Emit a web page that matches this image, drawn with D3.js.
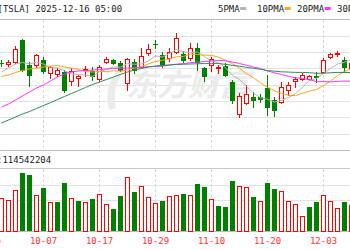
<!DOCTYPE html>
<html lang="zh">
<head>
<meta charset="UTF-8">
<title>TSLA 日K</title>
<script src="https://d3js.org/d3.v7.min.js"></script>
<style>
    html, body {margin: 0; padding: 0; background: #fff; overflow: hidden}
    svg {display: block}
    text {font-family: "DejaVu Sans Mono", monospace; font-size: 9px}
</style>
</head>
<body>
<svg id="kline" width="350" height="250"></svg>
<script>
// trading days (09-25 .. 12-09), first two sit left of the visible area
const dates = ["09-25","09-26","09-29","09-30","10-01","10-02","10-03","10-06","10-07","10-08","10-09","10-10",
    "10-13","10-14","10-15","10-16","10-17","10-20","10-21","10-22","10-23","10-24","10-27","10-28","10-29",
    "10-30","10-31","11-03","11-04","11-05","11-06","11-07","11-10","11-11","11-12","11-13","11-14","11-17",
    "11-18","11-19","11-20","11-21","11-24","11-25","11-26","11-28","12-01","12-02","12-03","12-04","12-05",
    "12-08","12-09"];
const opens = [437.9,440.4,447.1,444.9,447.7,474.7,444.1,444.1,449.6,434.3,433.0,435.5,423.9,427.8,437.9,436.1,
    426.9,447.7,449.6,447.1,422.6,448.1,442.2,458.4,470.0,456.3,453.2,460.0,457.5,452.3,464.3,440.0,444.1,440.0,
    443.4,423.6,384.1,397.9,405.2,405.2,415.5,401.2,399.1,413.4,424.8,426.9,426.5,431.2,435.9,454.2,457.5,450.2,440.0];
const closes = [435.5,442.8,446.1,447.7,463.6,437.9,431.8,456.3,436.1,441.0,437.9,413.4,437.3,430.6,439.2,430.0,
    442.2,451.4,446.1,437.9,451.4,437.9,454.5,463.4,469.4,444.1,460.3,477.1,450.2,464.5,448.1,430.6,451.0,442.0,
    431.8,401.2,406.1,408.5,401.2,403.0,392.3,389.0,417.5,419.6,426.5,431.8,430.6,429.4,450.2,457.2,458.5,442.0,446.1];
const highs = [442.8,446.5,450.2,449.6,467.3,475.3,448.3,457.5,453.9,442.8,439.8,437.9,439.8,431.8,443.4,441.6,
    444.1,453.9,450.8,448.9,452.6,452.0,464.5,469.8,474.7,460.0,464.5,483.2,460.6,470.6,470.4,442.2,453.5,444.1,
    445.9,425.7,409.2,419.6,411.4,408.6,431.8,405.2,423.6,423.6,429.7,433.9,432.4,435.5,452.3,458.4,461.2,453.5,448.9];
const lows = [430.6,437.9,443.4,443.4,446.5,436.7,418.3,441.6,434.3,428.1,430.6,411.6,419.6,418.3,430.6,425.7,
    424.5,445.9,445.3,436.7,413.4,434.3,441.6,456.3,464.9,441.6,448.9,458.7,447.7,450.2,437.9,423.9,436.1,434.6,
    430.0,397.5,380.4,396.9,392.3,399.1,382.8,381.6,397.5,407.3,417.5,425.7,425.7,423.2,433.9,452.3,455.1,435.9,437.9];
// volume, millions of shares
const volumes = [90.0,85.0,86.0,80.9,106.4,148.8,145.5,93.7,111.5,76.6,74.8,123.3,86.0,79.1,76.6,83.5,96.2,69.7,
    57.9,91.1,140.4,102.1,116.6,89.3,74.0,79.1,91.9,93.7,96.2,93.7,121.7,114.8,84.2,66.4,63.8,130.2,117.4,113.1,
    89.3,79.1,123.3,109.0,104.6,79.1,70.7,40.1,63.8,74.8,94.4,79.1,60.5,74.8,68.1];
// moving averages as drawn
const ma5 = [null,null,435.5,440.4,445.3,447.1,445.4,447.5,445.2,440.6,440.6,436.9,433.2,432.1,431.7,430.1,435.9,
    438.7,441.7,441.5,445.8,444.9,445.5,449.1,455.3,453.8,458.4,462.9,460.2,459.2,460.1,454.1,448.8,447.2,440.7,
    431.3,426.4,418.0,409.8,404.0,402.2,398.7,400.6,404.3,408.9,416.9,425.2,427.5,433.7,439.8,445.2,447.5,450.8];
const ma10 = [null,null,430.0,431.8,434.9,437.3,439.2,440.4,441.6,442.8,443.4,441.6,440.3,438.5,436.1,435.4,436.3,
    435.9,437.0,436.6,437.9,440.4,442.1,445.4,448.5,449.8,451.6,454.2,454.6,457.3,456.9,456.2,455.8,453.7,449.9,
    445.6,440.3,433.4,428.5,422.4,416.8,412.6,409.3,407.0,406.5,409.5,412.0,414.1,419.0,424.3,431.0,436.3,439.2];
const ma20 = [null,null,392.6,396.3,401.2,406.1,411.0,415.9,419.6,424.5,429.4,433.0,435.5,436.7,437.3,437.9,438.5,
    439.2,439.8,440.0,440.4,440.7,441.2,442.0,442.3,442.6,444.1,445.0,445.8,447.0,447.5,448.3,449.0,449.6,449.2,
    447.7,445.9,443.8,441.6,439.8,436.8,434.4,432.5,430.3,428.3,427.6,426.2,423.7,423.7,423.4,423.9,424.5,424.2];
const ma30 = [null,null,373.1,376.7,380.4,384.1,387.1,390.8,394.5,398.1,401.8,405.5,409.2,412.8,416.5,420.2,423.2,
    426.3,429.4,432.4,435.5,437.9,439.8,441.6,442.8,443.7,444.1,444.7,445.0,445.3,445.5,445.9,446.1,445.9,444.8,
    443.6,442.7,441.1,440.0,438.8,437.2,436.5,435.7,435.4,435.0,435.0,434.6,433.9,434.0,434.6,434.9,435.0,434.8];

const tickDates = ["09-25","10-07","10-17","10-29","11-10","11-20","12-03"];
const priceTicks = [360, 380, 400, 420, 440, 460, 480];
const volTicks = [40, 80, 120];
const maNames = ["5PMA", "10PMA", "20PMA", "30PMA"];
const maColors = ["#b4b4b4", "#f5a623", "#ff33ff", "#2e8b57"];
const title = "[TSLA] 2025-12-16 05:00";
const volLabel = ":114542204";

const RED = "#ff0000", GREEN = "#008000";
const W = 350, H = 250;
const svg = d3.select("#kline");

const x = d3.scalePoint().domain(dates).range([-12.5, -12.5 + 7 * (dates.length - 1)]);
const y = d3.scaleLinear().domain([340, 500]).range([150, 19.3]);
const yv = d3.scaleLinear().domain([0, 160]).range([231.5, 169]);
const px = v => Math.round(v) + 0.5;

// ---- grid ----
const grid = svg.append("g").attr("shape-rendering", "crispEdges");
grid.selectAll(".hp").data(priceTicks).join("line")
    .attr("x1", 0).attr("x2", W)
    .attr("y1", d => px(y(d))).attr("y2", d => px(y(d)))
    .attr("stroke", "#e2e2e2");
grid.selectAll(".hv").data(volTicks).join("line")
    .attr("x1", 0).attr("x2", W)
    .attr("y1", d => px(yv(d))).attr("y2", d => px(yv(d)))
    .attr("stroke", "#e2e2e2");
[[20, 150], [169, 231]].forEach(([a, b]) => {
    grid.append("g").selectAll("line").data(tickDates).join("line")
        .attr("x1", d => x(d)).attr("x2", d => x(d))
        .attr("y1", a).attr("y2", b)
        .attr("stroke", "#d6d6d6").attr("stroke-dasharray", "3,2");
});
[[19.5, "#bbb", 1], [150.5, "#bbb", 1.5], [168.5, "#c8c8c8", 1], [231.5, "#bbb", 1]].forEach(([yy, c, w]) => {
    grid.append("line").attr("x1", 0).attr("x2", W).attr("y1", yy).attr("y2", yy)
        .attr("stroke", c).attr("stroke-width", w);
});

// ---- watermark ----
const wm = svg.append("g").attr("fill", "#ebebeb");
wm.append("path").attr("d", "M119,68 Q103,86 109,110 L116,108 Q111,88 125,70 Z");
wm.append("text").attr("x", 126).attr("y", 96)
    .style("font-family", "'Noto Sans CJK SC'").style("font-size", "31px")
    .style("font-weight", "bold").style("font-style", "italic")
    .text("东方财富");

// ---- candles ----
const idx = d3.range(dates.length);
const candles = svg.append("g").attr("shape-rendering", "crispEdges");
candles.selectAll(".wick").data(idx).join("line")
    .attr("x1", i => x(dates[i])).attr("x2", i => x(dates[i]))
    .attr("y1", i => Math.round(y(highs[i]))).attr("y2", i => Math.round(y(lows[i])) + 1)
    .attr("stroke", i => closes[i] >= opens[i] ? RED : GREEN);
candles.selectAll(".body").data(idx).join("rect")
    .each(function (i) {
        const up = closes[i] >= opens[i];
        const top = Math.round(y(Math.max(opens[i], closes[i])));
        const bot = Math.round(y(Math.min(opens[i], closes[i])));
        const r = d3.select(this);
        if (up) {
            r.attr("x", x(dates[i]) - 2).attr("y", top + 0.5)
             .attr("width", 4).attr("height", Math.max(1, bot - top))
             .attr("fill", "#fff").attr("stroke", RED);
        } else {
            r.attr("x", x(dates[i]) - 2.5).attr("y", top)
             .attr("width", 5).attr("height", Math.max(1, bot - top + 1))
             .attr("fill", GREEN);
        }
    });

// ---- moving averages ----
const lineGen = arr => d3.line()
    .defined(d => d != null)
    .x((d, i) => x(dates[i]))
    .y(d => y(d))(arr);
[ma5, ma10, ma20, ma30].forEach((arr, k) => {
    svg.append("path").attr("d", lineGen(arr))
        .attr("fill", "none").attr("stroke", maColors[k]).attr("stroke-width", 1);
});

// ---- volume ----
const vol = svg.append("g").attr("shape-rendering", "crispEdges");
vol.selectAll("rect").data(idx).join("rect")
    .each(function (i) {
        const up = i === 0 ? closes[i] >= opens[i] : closes[i] >= closes[i - 1];
        const top = Math.round(yv(volumes[i]));
        const r = d3.select(this);
        if (up) {
            r.attr("x", x(dates[i]) - 2).attr("y", top + 0.5)
             .attr("width", 4).attr("height", 231 - top - 0.5)
             .attr("fill", "#fff").attr("stroke", RED);
        } else {
            r.attr("x", x(dates[i]) - 2.5).attr("y", top)
             .attr("width", 5).attr("height", 231 - top)
             .attr("fill", GREEN);
        }
    });

// ---- texts ----
svg.append("text").attr("x", -2.5).attr("y", 12).attr("fill", "#222").text(title);
svg.append("text").attr("x", -3).attr("y", 163).attr("fill", "#222").text(volLabel);

const legX = [218, 257, 297, 337];
maNames.forEach((n, k) => {
    svg.append("text").attr("x", legX[k]).attr("y", 12).attr("fill", "#222").text(n);
    svg.append("rect").attr("x", legX[k] + n.length * 5.42 + 0.5).attr("y", 7)
        .attr("width", 6).attr("height", 3).attr("fill", maColors[k]);
});

svg.append("g").selectAll("text").data(tickDates).join("text")
    .attr("x", d => x(d)).attr("y", 244)
    .attr("text-anchor", "middle").attr("fill", "#ff3333")
    .text(d => d);
</script>
</body>
</html>
